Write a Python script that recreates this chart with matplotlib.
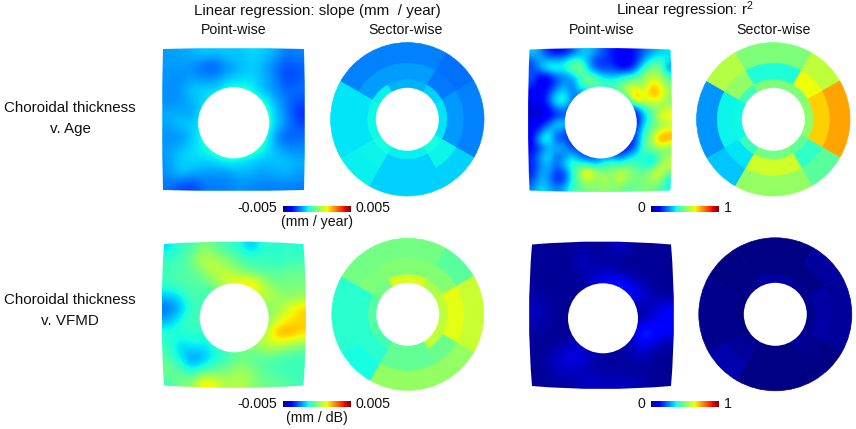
import matplotlib
matplotlib.use('Agg')
import matplotlib.pyplot as plt
import numpy as np
from matplotlib.cm import ScalarMappable
from matplotlib.colors import Normalize
from matplotlib.patches import Circle, PathPatch, Wedge
from matplotlib.path import Path

plt.rcParams['font.family'] = ['Liberation Sans', 'DejaVu Sans']
plt.rcParams['mathtext.fontset'] = 'custom'
plt.rcParams['mathtext.rm'] = 'Liberation Sans'
plt.rcParams['mathtext.default'] = 'regular'

# Point-wise slope, choroidal thickness v. age (1e-3 mm / year)
slope_age_points = [
    [-2.2, -2.1, -2.0, -1.7, -1.8, -1.7, -1.8, -1.6, -1.7, -2.0, -2.6, -2.4],
    [-2.2, -2.2, -2.3, -2.8, -3.0, -2.3, -2.0, -1.7, -2.0, -2.6, -3.0, -2.8],
    [-2.3, -2.4, -2.2, -2.4, -2.3, -1.9, -1.7, -1.6, -1.9, -2.4, -3.2, -2.8],
    [-2.3, -2.3, -1.7, -1.6, -1.7, -1.0, -1.0, -1.2, -2.0, -2.3, -2.8, -2.6],
    [-2.4, -2.3, -2.0, -1.7, -1.0, -1.0, -1.0, -0.8, -1.0, -2.0, -2.6, -3.0],
    [-2.0, -2.0, -2.2, -1.4, -0.6, -1.0, -1.0, -0.6, -0.5, -1.7, -2.5, -3.4],
    [-2.2, -1.7, -1.8, -1.2, -0.6, -1.0, -1.0, -0.6, -0.5, -1.7, -2.4, -3.0],
    [-2.3, -2.5, -1.8, -1.2, -0.6, -1.0, -1.0, -0.6, -0.8, -2.3, -3.0, -2.6],
    [-2.2, -1.8, -1.6, -1.3, -0.8, -0.6, -0.6, -0.7, -1.2, -1.9, -2.3, -2.4],
    [-2.3, -1.7, -1.6, -1.7, -1.6, -1.2, -1.4, -1.7, -1.9, -1.8, -1.8, -2.0],
    [-2.3, -1.7, -2.0, -2.2, -2.3, -2.3, -2.0, -2.0, -2.2, -2.0, -1.9, -2.2],
    [-2.6, -3.0, -3.2, -2.6, -2.5, -2.5, -2.3, -2.4, -2.5, -2.5, -2.5, -2.5],
]

# Point-wise r2, choroidal thickness v. age
r2_age_points = [
    [.33, .28, .15, .12, .12, .20, .30, .33, .27, .20, .15, .12, .12, .15, .22, .28, .32, .35],
    [.22, .30, .30, .28, .32, .40, .38, .30, .18, .18, .15, .10, .10, .15, .28, .38, .42, .35],
    [.18, .28, .40, .42, .38, .50, .55, .32, .20, .18, .20, .12, .12, .22, .42, .50, .50, .25],
    [.22, .12, .12, .22, .25, .30, .42, .48, .40, .32, .30, .35, .38, .42, .52, .58, .55, .42],
    [.18, .10, .12, .18, .30, .22, .40, .50, .50, .45, .45, .45, .55, .55, .50, .70, .62, .50],
    [.12, .10, .15, .30, .35, .25, .30, .30, .30, .30, .40, .50, .60, .72, .60, .75, .70, .55],
    [.10, .10, .20, .38, .42, .25, .20, .30, .30, .30, .30, .30, .35, .75, .60, .65, .62, .50],
    [.08, .08, .12, .25, .28, .20, .15, .20, .20, .20, .20, .20, .20, .20, .42, .50, .50, .58],
    [.08, .08, .10, .15, .20, .15, .15, .15, .15, .15, .15, .12, .12, .12, .30, .42, .65, .68],
    [.10, .12, .20, .35, .38, .20, .15, .15, .15, .15, .15, .12, .10, .10, .35, .45, .50, .55],
    [.12, .20, .38, .25, .20, .15, .15, .15, .15, .15, .15, .15, .15, .20, .40, .50, .65, .70],
    [.10, .35, .42, .20, .22, .15, .15, .15, .15, .15, .15, .15, .15, .18, .45, .55, .78, .72],
    [.12, .18, .28, .32, .30, .18, .20, .15, .15, .15, .15, .12, .12, .25, .45, .50, .55, .50],
    [.15, .28, .38, .22, .25, .35, .22, .20, .20, .22, .25, .20, .32, .38, .42, .35, .45, .55],
    [.15, .25, .32, .22, .32, .42, .42, .35, .32, .42, .45, .42, .45, .42, .38, .32, .55, .60],
    [.15, .28, .30, .18, .20, .38, .55, .72, .55, .50, .50, .58, .55, .50, .45, .58, .62, .50],
    [.18, .30, .28, .15, .18, .38, .50, .60, .50, .60, .50, .62, .50, .50, .50, .55, .55, .35],
    [.25, .35, .32, .25, .30, .42, .45, .50, .50, .52, .50, .50, .45, .48, .50, .50, .45, .38],
]

# Point-wise slope, choroidal thickness v. VFMD (1e-3 mm / dB)
slope_vfmd_points = [
    [-1.7, -0.8, -0.8, 0.2, -0.5, -0.8, -1.2, -2.0, -0.8, -1.2, -0.8, -1.2],
    [-0.8, -0.8, 0.0, 1.0, 0.5, 0.0, -0.5, -0.8, -0.8, -1.0, -0.8, -0.8],
    [-0.8, -0.5, -0.5, 0.2, 1.0, 0.8, 0.0, -0.5, -0.5, -0.5, -0.2, -0.3],
    [-0.8, -0.5, -0.5, -0.5, 0.2, 1.2, 2.0, 2.2, 0.5, -0.2, 0.0, 0.0],
    [-1.8, -1.5, -0.5, -0.8, -0.8, 0.0, 0.5, 1.0, 1.0, 0.5, 0.0, 0.2],
    [-2.8, -2.0, -0.8, -0.8, -0.5, 0.0, 0.0, 0.0, 0.0, 0.2, 1.2, 2.0],
    [-2.0, -1.2, -0.5, -0.8, -0.5, 0.0, 0.0, 0.0, -0.2, 1.0, 1.6, 1.8],
    [-1.0, -1.0, -1.0, -1.0, -0.5, 0.0, 0.0, 0.0, 0.5, 2.5, 2.5, 2.0],
    [-0.8, -1.8, -1.2, -1.5, -1.0, -0.5, 0.0, 0.2, 1.0, 0.8, 0.5, 0.0],
    [-0.5, -1.5, -2.5, -2.0, -1.2, -0.8, -0.2, -0.5, -0.5, -0.5, -0.8, -0.8],
    [0.0, -0.5, -1.5, -0.8, -0.5, 0.0, 0.5, 0.0, -0.5, -0.8, -0.8, -0.8],
    [-0.8, 0.0, 0.2, 2.0, 1.2, 0.5, 0.8, 0.2, -0.2, -0.2, -0.5, -0.8],
]

# Point-wise r2, choroidal thickness v. VFMD
r2_vfmd_points = [
    [.02, .02, .02, .02, .03, .02, .03, .07, .03, .02, .02, .02],
    [.03, .02, .02, .03, .07, .03, .03, .03, .02, .02, .03, .02],
    [.02, .02, .02, .02, .04, .05, .05, .03, .02, .02, .02, .02],
    [.02, .02, .02, .02, .03, .10, .15, .17, .08, .05, .02, .02],
    [.04, .03, .02, .02, .02, .05, .10, .20, .12, .08, .03, .03],
    [.06, .04, .02, .02, .02, .03, .03, .03, .02, .03, .08, .12],
    [.05, .03, .02, .02, .02, .03, .03, .03, .02, .06, .10, .12],
    [.03, .02, .02, .02, .02, .03, .03, .03, .05, .22, .14, .10],
    [.02, .02, .03, .07, .08, .03, .03, .03, .05, .10, .05, .03],
    [.02, .04, .07, .10, .08, .04, .03, .03, .04, .05, .02, .02],
    [.02, .03, .06, .06, .05, .03, .03, .03, .02, .02, .02, .02],
    [.02, .02, .03, .03, .06, .07, .05, .06, .06, .04, .02, .02],
]

# Sectors, clockwise from the top: T, UR, R, LR, B, LL, L, UL
sector_start = [60, 30, -30, -60, -120, -150, 150, 120]
sector_stop = [120, 60, 30, -30, -60, -120, 210, 150]

slope_age_outer = [-2.5, -2.65, -2.5, -1.7, -1.7, -1.4, -1.5, -2.5]
slope_age_middle = [-2.2, -2.55, -2.25, -1.35, -1.7, -1.35, -1.5, -2.2]
slope_age_inner = [-2.0, -1.7, -1.5, -1.25, -1.4, -1.25, -1.3, -1.4]

r2_age_outer = [.50, .58, .735, .46, .53, .32, .27, .57]
r2_age_middle = [.39, .64, .69, .41, .60, .35, .365, .53]
r2_age_inner = [.50, .50, .52, .47, .49, .42, .37, .43]

slope_vfmd_outer = [-0.1, -0.4, 0.9, 0.3, 0.3, -1.25, -1.0, -0.1]
slope_vfmd_middle = [0.1, 0.1, 1.25, -0.2, -0.3, -1.0, -1.0, 0.0]
slope_vfmd_inner = [1.1, 0.6, 0.8, 0.8, -0.3, -0.7, -0.5, -0.1]

r2_vfmd_outer = [.007, .03, .025, .007, .007, .042, .015, .007]
r2_vfmd_middle = [.007, .007, .035, .015, .007, .025, .012, .007]
r2_vfmd_inner = [.035, .015, .015, .025, .007, .015, .007, .015]

W, H = 856, 429
fig = plt.figure(figsize=(W / 100, H / 100), dpi=100)
slope_norm = Normalize(-5, 5)
r2_norm = Normalize(0, 1)


def pixel_axes(x0, y0, x1, y1):
    ax = fig.add_axes([x0 / W, 1 - y1 / H, (x1 - x0) / W, (y1 - y0) / H])
    ax.axis('off')
    return ax


def point_map(values, norm, box, hole, bulge):
    x0, y0, x1, y1 = box
    ax = pixel_axes(x0 - 4, y0 - 4, x1 + 4, y1 + 4)
    im = ax.imshow(values, cmap='jet', norm=norm, extent=(x0, x1, y1, y0),
                   interpolation='bicubic', aspect='auto')
    xm, ym = (x0 + x1) / 2, (y0 + y1) / 2
    b = bulge
    verts = [(x0 + b, y0 + b), (xm, y0 - b), (x1 - b, y0 + b), (x1 + b, ym), (x1 - b, y1 - b),
             (xm, y1 + b), (x0 + b, y1 - b), (x0 - b, ym), (x0 + b, y0 + b)]
    codes = [Path.MOVETO] + [Path.CURVE3] * 8
    outline = PathPatch(Path(verts, codes), transform=ax.transData, fc='none', ec='none')
    ax.add_patch(outline)
    im.set_clip_path(outline)
    ax.add_patch(Circle(hole[:2], hole[2], fc='white', ec='none'))
    ax.set_xlim(x0 - 4, x1 + 4)
    ax.set_ylim(y1 + 4, y0 - 4)


def sector_map(outer, middle, inner, norm, cx, cy, radius):
    ax = pixel_axes(cx - radius - 2, cy - radius - 2, cx + radius + 2, cy + radius + 2)
    # paint full wedges from the outside in so that no seams show between rings
    for r, values in [(radius, outer), (56, middle), (39.5, inner)]:
        for a, b, v in zip(sector_start, sector_stop, values):
            c = plt.cm.jet(norm(v))
            ax.add_patch(Wedge((0, 0), r, a, b, fc=c, ec=c, lw=0.5))
    ax.add_patch(Circle((0, 0), 31.5, fc='white', ec='none'))
    ax.set_xlim(-radius - 2, radius + 2)
    ax.set_ylim(-radius - 2, radius + 2)
    ax.set_aspect('equal')


def color_bar(norm, x0, y0, low, high):
    cax = pixel_axes(x0, y0, x0 + 68, y0 + 5.5)
    cb = fig.colorbar(ScalarMappable(norm=norm, cmap='jet'), cax=cax, orientation='horizontal')
    cb.set_ticks([])
    cb.outline.set_visible(False)
    label(x0 - 6, y0 + 2.5, low, ha='right')
    label(x0 + 73, y0 + 2.5, high, ha='left')


def label(x, y, s, ha='center', size=10.2):
    fig.text(x / W, 1 - y / H, s, ha=ha, va='center', fontsize=size, color='#111111')


point_map(slope_age_points, slope_norm, (162, 48, 305, 191), (233.7, 122.8, 35.6), 1)
point_map(r2_age_points, r2_norm, (528, 48, 672, 192), (600.8, 122.5, 36), 1.5)
point_map(slope_vfmd_points, slope_norm, (161.5, 241.5, 306, 388), (234.2, 317.8, 34.5), 2.5)
point_map(r2_vfmd_points, r2_norm, (529, 241.5, 674, 389), (603, 318.3, 35), 3)

sector_map(slope_age_outer, slope_age_middle, slope_age_inner, slope_norm, 407.3, 119.3, 76.7)
sector_map(r2_age_outer, r2_age_middle, r2_age_inner, r2_norm, 773.3, 119.3, 76.7)
sector_map(slope_vfmd_outer, slope_vfmd_middle, slope_vfmd_inner, slope_norm, 407.8, 314.3, 76)
sector_map(r2_vfmd_outer, r2_vfmd_middle, r2_vfmd_inner, r2_norm, 775.3, 314.3, 76.5)

color_bar(slope_norm, 283, 206, '-0.005', '0.005')
color_bar(r2_norm, 651, 206, '0', '1')
color_bar(slope_norm, 283, 401, '-0.005', '0.005')
color_bar(r2_norm, 651, 401, '0', '1')

label(317, 222, '(mm / year)')
label(317, 418, '(mm / dB)')
label(317, 11, 'Linear regression: slope (mm  / year)', size=10.9)
label(685, 10, 'Linear regression: r$^{2}$', size=10.9)
for x in (234, 406, 602, 774):
    label(x, 30, 'Point-wise' if x in (234, 602) else 'Sector-wise')
label(70, 108, 'Choroidal thickness', size=10.9)
label(70, 129, 'v. Age', size=10.9)
label(70, 300, 'Choroidal thickness', size=10.9)
label(70, 321, 'v. VFMD', size=10.9)

fig.savefig('out.png', dpi=100)
